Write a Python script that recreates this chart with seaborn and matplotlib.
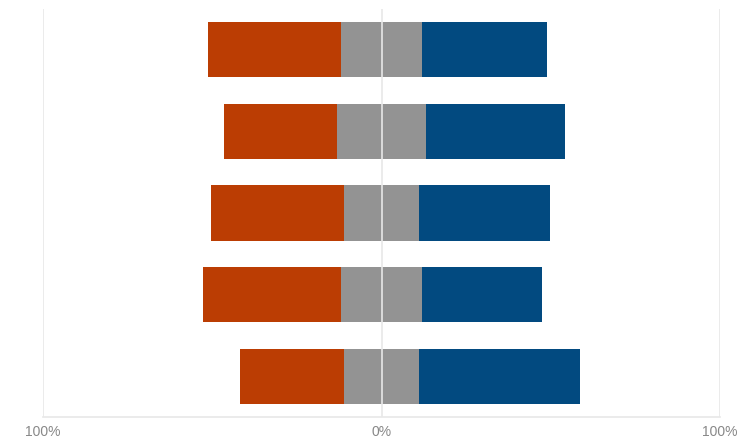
import matplotlib
matplotlib.use("Agg")
import matplotlib.pyplot as plt
import seaborn as sns
import pandas as pd
import numpy as np

categories = ["Q1", "Q2", "Q3", "Q4", "Q5"]
negative = [39.3, 33.4, 39.3, 40.8, 30.7]
neutral = [24.2, 26.0, 22.4, 23.9, 22.4]
positive = [36.9, 41.1, 38.7, 35.5, 47.3]
tick_values = [-100, 0, 100]
tick_labels = ["100%", "0%", "100%"]

sns.set_theme(style="white")
plt.rcParams['font.family'] = ['Liberation Sans', 'DejaVu Sans']

neg = np.array(negative)
neu = np.array(neutral)
pos = np.array(positive)

df = pd.DataFrame({
    "cat": categories,
    "pos_full": neu / 2 + pos,
    "neu_right": neu / 2,
    "neg_full": -(neu / 2 + neg),
    "neu_left": -neu / 2,
})

fig = plt.figure(figsize=(7.52, 4.42), dpi=100)
ax = fig.add_axes([43/752, 1 - 417/442, 677/752, 408/442])

orange = "#BB3D03"
gray = "#939393"
blue = "#024A80"

kw = dict(y="cat", orient="h", width=0.675, linewidth=0, ax=ax, order=categories)
sns.barplot(data=df, x="pos_full", color=blue, saturation=1, **kw)
sns.barplot(data=df, x="neu_right", color=gray, saturation=1, **kw)
sns.barplot(data=df, x="neg_full", color=orange, saturation=1, **kw)
sns.barplot(data=df, x="neu_left", color=gray, saturation=1, **kw)

ax.set_xlim(-100, 100)
ax.set_ylim(4.5, -0.5)
for v in tick_values:
    ax.axvline(v, color="#e8e8e8", lw=1.2, zorder=5)
ax.set_xticks(tick_values)
ax.set_xticklabels(tick_labels, color="#888888", fontsize=10)
ax.tick_params(axis="x", length=0, pad=6)
ax.set_yticks([])
ax.set_xlabel("")
ax.set_ylabel("")
for s in ["top", "left", "right"]:
    ax.spines[s].set_visible(False)
ax.spines["bottom"].set_color("#e8e8e8")
ax.spines["bottom"].set_linewidth(1.2)

fig.savefig("out.png", dpi=100)
